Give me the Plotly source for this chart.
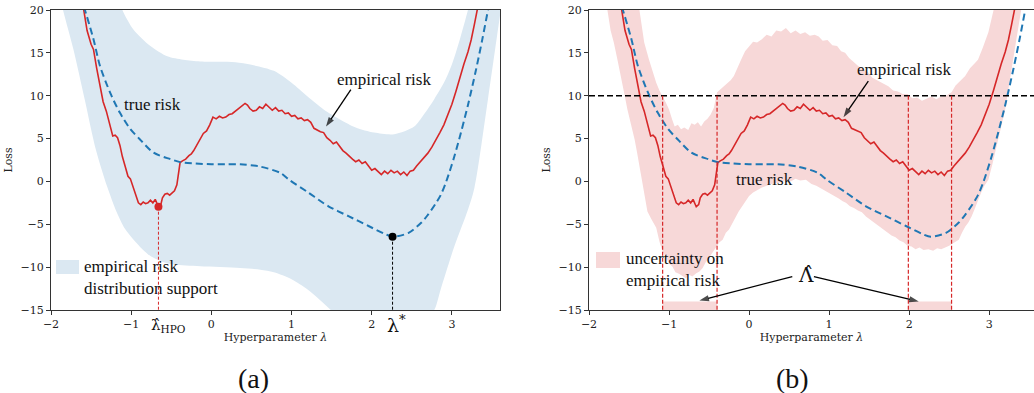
import plotly.graph_objects as go

# ---------------- data ----------------
lam_emp = [-1.60, -1.55, -1.50, -1.47, -1.43, -1.39, -1.35, -1.31, -1.28, -1.25, -1.23, -1.20, -1.17, -1.14,
           -1.11, -1.07, -1.04, -1.01, -0.97, -0.94, -0.91, -0.88, -0.85, -0.82, -0.79, -0.76, -0.73, -0.70,
           -0.68, -0.66, -0.63, -0.61, -0.58, -0.55, -0.52, -0.49, -0.46, -0.43, -0.41, -0.39, -0.36, -0.32,
           -0.28, -0.25, -0.22, -0.18, -0.14, -0.10, -0.06, -0.02, 0.02, 0.06, 0.10, 0.14, 0.18, 0.22, 0.26,
           0.30, 0.34, 0.38, 0.42, 0.45, 0.48, 0.52, 0.56, 0.60, 0.64, 0.68, 0.72, 0.76, 0.80, 0.84, 0.88,
           0.92, 0.96, 1.00, 1.04, 1.08, 1.12, 1.16, 1.20, 1.24, 1.28, 1.32, 1.36, 1.40, 1.44, 1.48, 1.52,
           1.56, 1.60, 1.64, 1.68, 1.72, 1.76, 1.80, 1.84, 1.88, 1.92, 1.96, 2.00, 2.04, 2.08, 2.12, 2.16,
           2.20, 2.24, 2.28, 2.32, 2.36, 2.40, 2.44, 2.48, 2.52, 2.56, 2.60, 2.65, 2.70, 2.75, 2.80, 2.85,
           2.90, 2.95, 3.00, 3.05, 3.10, 3.15, 3.20, 3.24, 3.28, 3.32]
emp_risk = [20.5, 17.6, 16.0, 15.4, 13.2, 11.0, 9.3, 8.2, 7.2, 6.0, 5.3, 5.4, 5.1, 4.2,
            2.9, 1.6, 0.6, 0.3, -0.9, -1.8, -2.5, -2.7, -2.4, -2.6, -2.5, -2.2, -2.5, -2.1,
            -2.6, -2.95, -2.7, -1.9, -1.5, -1.4, -1.6, -1.3, -1.1, -0.4, 0.9, 2.2, 2.4, 2.6,
            3.0, 3.2, 3.6, 4.3, 4.9, 5.6, 5.9, 6.6, 7.5, 7.3, 7.6, 7.4, 7.5, 7.8, 7.9,
            8.2, 8.4, 8.7, 9.1, 8.9, 8.5, 8.2, 8.3, 8.7, 8.5, 9.0, 8.6, 8.3, 8.6, 8.2, 8.3,
            7.9, 8.0, 7.6, 7.7, 7.3, 7.4, 7.1, 7.2, 6.9, 6.2, 6.0, 5.8, 5.7, 5.1, 4.8, 4.4,
            4.6, 4.1, 3.6, 3.3, 2.9, 2.6, 2.3, 2.5, 2.1, 2.3, 1.8, 1.3, 1.5, 1.1, 0.8, 1.2,
            0.9, 1.3, 1.0, 1.2, 0.8, 1.1, 0.7, 1.2, 1.3, 1.8, 2.2, 2.7, 3.3, 4.0, 4.8, 5.7,
            6.6, 7.8, 9.0, 10.5, 12.2, 13.7, 15.1, 16.5, 18.3, 20.2]

lam_true = [-1.59, -1.47, -1.39, -1.26, -1.14, -1.01, -0.89, -0.72, -0.51, -0.39, -0.20, 0.00, 0.20, 0.36,
            0.60, 0.86, 0.97, 1.21, 1.46, 1.71, 1.96, 2.17, 2.27, 2.46, 2.62, 2.70, 2.79, 2.86, 2.93,
            3.03, 3.11, 3.20, 3.30, 3.38, 3.46, 3.50]
true_risk = [20.4, 16.6, 13.5, 10.3, 8.0, 6.1, 4.9, 3.35, 2.6, 2.25, 2.1, 2.0, 2.0, 2.0,
             1.75, 1.0, 0.2, -1.3, -2.9, -4.05, -5.2, -6.15, -6.45, -6.0, -4.8, -3.9, -2.7, -1.6, 0.0,
             2.9, 5.6, 8.9, 13.0, 16.6, 20.5, 22.5]

# (a) support of the empirical-risk distribution
support_upper_lam = [-1.20, -1.11, -0.97, -0.76, -0.55, -0.35, -0.14, 0.10, 0.30, 0.50, 0.78, 1.00, 1.20,
                     1.40, 1.61, 1.80, 2.03, 2.28, 2.53, 2.65, 2.78, 2.90, 2.99, 3.10, 3.20, 3.25]
support_upper = [22.5, 20.0, 17.7, 15.8, 14.6, 14.2, 14.0, 13.95, 13.9, 13.6, 12.9, 11.5, 9.9,
                 8.4, 7.2, 6.3, 5.7, 5.5, 6.4, 7.8, 9.6, 11.5, 13.4, 16.6, 20.0, 22.0]
support_lower_lam = [-1.92, -1.85, -1.72, -1.58, -1.44, -1.30, -1.18, -1.08, -0.97, -0.86, -0.76, -0.60,
                     -0.47, -0.14, 0.36, 0.61, 0.78, 1.00, 1.20, 1.35, 1.49, 1.70, 2.00, 2.30, 2.60,
                     2.78, 2.86, 3.03, 3.20, 3.28, 3.45, 3.61, 3.66]
support_lower = [23.0, 20.0, 15.4, 9.6, 3.7, -0.6, -3.6, -5.5, -6.8, -7.9, -8.7, -9.4,
                 -9.7, -9.9, -10.1, -10.3, -10.6, -11.4, -12.6, -13.8, -15.0, -17.0, -18.5, -18.5, -17.0,
                 -15.0, -12.6, -7.6, -3.3, -0.8, 9.6, 20.0, 23.0]

# (b) uncertainty on the empirical risk
unc_upper_lam = [-1.40, -1.37, -1.31, -1.25, -1.20, -1.16, -1.12, -1.08, -1.04, -1.00, -0.96, -0.93, -0.89,
                 -0.85, -0.81, -0.76, -0.72, -0.68, -0.64, -0.60, -0.56, -0.52, -0.48, -0.44, -0.40, -0.35,
                 -0.31, -0.27, -0.23, -0.19, -0.14, -0.10, -0.05, 0.00, 0.05, 0.10, 0.16, 0.22, 0.28, 0.34,
                 0.40, 0.46, 0.52, 0.58, 0.64, 0.70, 0.76, 0.82, 0.87, 0.92, 0.98, 1.04, 1.10, 1.15, 1.20,
                 1.25, 1.30, 1.36, 1.42, 1.48, 1.54, 1.60, 1.66, 1.74, 1.80, 1.86, 1.92, 1.98, 2.04, 2.10,
                 2.16, 2.22, 2.28, 2.34, 2.40, 2.46, 2.53, 2.58, 2.64, 2.70, 2.76, 2.82, 2.86, 2.92, 2.99,
                 3.05, 3.08]
unc_upper = [21.0, 20.0, 16.2, 14.2, 12.6, 11.5, 10.6, 9.9, 9.2, 8.4, 7.2, 6.4, 6.6,
             6.1, 6.3, 6.0, 6.8, 6.6, 6.9, 6.4, 7.0, 7.3, 7.8, 8.6, 10.4, 10.8,
             11.1, 11.5, 11.8, 12.3, 13.4, 14.2, 15.2, 15.8, 16.3, 16.2, 16.6, 17.1, 16.9, 17.6,
             17.5, 17.9, 17.3, 17.6, 17.2, 17.4, 17.0, 17.1, 16.9, 16.4, 16.5, 15.9, 15.8, 15.2, 15.0,
             14.4, 14.0, 13.5, 13.1, 12.8, 12.1, 11.8, 11.5, 11.1, 10.6, 10.5, 10.2, 10.2, 9.7, 9.8,
             9.4, 9.6, 9.9, 9.6, 9.9, 10.0, 10.4, 11.2, 11.8, 12.3, 13.2, 13.8, 14.2, 15.6, 17.4,
             19.8, 21.0]
unc_lower_lam = [-1.80, -1.77, -1.73, -1.69, -1.64, -1.60, -1.56, -1.52, -1.47, -1.43, -1.40, -1.37, -1.33,
                 -1.30, -1.27, -1.22, -1.16, -1.12, -1.08, -1.04, -1.00, -0.96, -0.92, -0.87, -0.83, -0.79,
                 -0.75, -0.71, -0.66, -0.62, -0.58, -0.54, -0.50, -0.46, -0.42, -0.37, -0.33, -0.29, -0.25,
                 -0.21, -0.17, -0.13, -0.09, -0.05, 0.00, 0.05, 0.10, 0.16, 0.22, 0.28, 0.34, 0.40, 0.46,
                 0.52, 0.58, 0.64, 0.71, 0.78, 0.84, 0.90, 0.95, 1.00, 1.06, 1.12, 1.17, 1.21, 1.26, 1.31,
                 1.36, 1.41, 1.46, 1.52, 1.57, 1.62, 1.68, 1.73, 1.78, 1.83, 1.88, 1.93, 1.98, 2.03, 2.08,
                 2.13, 2.18, 2.24, 2.30, 2.35, 2.40, 2.45, 2.50, 2.55, 2.62, 2.66, 2.70, 2.74, 2.78, 2.82,
                 2.86, 2.90, 2.94, 2.99, 3.04, 3.08, 3.14, 3.20, 3.24, 3.28, 3.34, 3.40, 3.43]
unc_lower = [21.0, 20.0, 17.6, 16.2, 14.0, 12.3, 10.3, 8.4, 6.5, 4.9, 3.4, 1.8, -0.6,
             -1.9, -3.5, -4.4, -5.4, -7.0, -8.2, -8.8, -9.6, -9.9, -10.6, -10.8, -11.1, -11.3,
             -10.9, -11.1, -10.7, -10.5, -10.1, -9.4, -8.9, -8.3, -7.7, -7.1, -6.8, -6.0, -5.6,
             -4.8, -4.2, -3.5, -2.9, -2.4, -1.7, -1.3, -1.0, -0.7, -0.5, -0.3, -0.2, -0.1, 0.2,
             0.0, 0.3, 0.1, 0.2, -0.3, -0.5, -0.8, -1.1, -1.3, -1.7, -2.0, -2.3, -2.5, -2.9, -3.1,
             -3.4, -3.6, -4.1, -4.5, -4.8, -5.2, -5.6, -5.9, -6.3, -6.5, -6.9, -7.1, -7.5, -7.6, -7.9,
             -7.7, -8.0, -7.9, -8.1, -7.8, -7.9, -7.7, -7.5, -7.2, -6.8, -6.0, -5.3, -4.8, -4.1, -3.2,
             -2.2, -1.3, -0.5, 0.2, 2.0, 3.7, 6.0, 8.4, 10.9, 13.4, 16.6, 20.0, 21.5]

lam_hpo, risk_hpo = -0.66, -2.95
lam_star, risk_star = 2.26, -6.45
threshold = 10.0
lambda_hat_lo = [-1.08, 1.99]
lambda_hat_hi = [-0.40, 2.53]
y_floor = -15.0
bar_top = -14.0

# arrows: (tail_x, tail_y, head_x, head_y)
arrow_a = [(1.74, 10.7, 1.43, 6.4)]
arrow_b = [(1.49, 11.7, 1.18, 7.5), (0.54, -11.1, -0.62, -13.9), (0.81, -11.1, 2.12, -14.0)]

x_ticks = [-2, -1, 0, 1, 2, 3]
y_ticks = [-15, -10, -5, 0, 5, 10, 15, 20]

# ---------------- style ----------------
BLUE = "#1f77b4"
RED = "#d62728"
BLUE_FILL = "#dbe8f2"
PINK_FILL = "#f7d8d8"
SERIF = "Liberation Serif"
TICKF = "DejaVu Serif"
W, H = 1034, 393


def px_x(p):
    return p / W


def px_y(p):
    return 1 - p / H


fig = go.Figure()

# ---- panel (a) ----
band_x = support_lower_lam + support_upper_lam[::-1]
band_y = support_lower + support_upper[::-1]
fig.add_trace(go.Scatter(x=band_x, y=band_y, fill="toself", fillcolor=BLUE_FILL,
                         line=dict(width=0, shape="spline", smoothing=0.8), mode="lines",
                         hoverinfo="skip", showlegend=False, xaxis="x", yaxis="y"))
fig.add_trace(go.Scatter(x=lam_emp, y=emp_risk, mode="lines", line=dict(color=RED, width=1.6),
                         showlegend=False, xaxis="x", yaxis="y"))
fig.add_trace(go.Scatter(x=lam_true, y=true_risk, mode="lines",
                         line=dict(color=BLUE, width=2, dash="7px,4px", shape="spline", smoothing=0.8),
                         showlegend=False, xaxis="x", yaxis="y"))
fig.add_trace(go.Scatter(x=[lam_hpo, lam_hpo], y=[risk_hpo, y_floor], mode="lines",
                         line=dict(color=RED, width=1, dash="3px,2px"), showlegend=False,
                         xaxis="x", yaxis="y"))
fig.add_trace(go.Scatter(x=[lam_star, lam_star], y=[risk_star, y_floor], mode="lines",
                         line=dict(color="black", width=1, dash="3px,2px"), showlegend=False,
                         xaxis="x", yaxis="y"))
fig.add_trace(go.Scatter(x=[lam_hpo], y=[risk_hpo], mode="markers",
                         marker=dict(color=RED, size=8), showlegend=False, xaxis="x", yaxis="y"))
fig.add_trace(go.Scatter(x=[lam_star], y=[risk_star], mode="markers",
                         marker=dict(color="black", size=8), showlegend=False, xaxis="x", yaxis="y"))

# ---- panel (b) ----
ub_x = unc_lower_lam + unc_upper_lam[::-1]
ub_y = unc_lower + unc_upper[::-1]
fig.add_trace(go.Scatter(x=ub_x, y=ub_y, fill="toself", fillcolor=PINK_FILL,
                         line=dict(width=0), mode="lines", hoverinfo="skip", showlegend=False,
                         xaxis="x2", yaxis="y2"))
for lo, hi in zip(lambda_hat_lo, lambda_hat_hi):
    fig.add_trace(go.Scatter(x=[lo, hi, hi, lo, lo], y=[y_floor, y_floor, bar_top, bar_top, y_floor],
                             fill="toself", fillcolor=PINK_FILL, line=dict(width=0), mode="lines",
                             hoverinfo="skip", showlegend=False, xaxis="x2", yaxis="y2"))
fig.add_trace(go.Scatter(x=lam_emp, y=emp_risk, mode="lines", line=dict(color=RED, width=1.6),
                         showlegend=False, xaxis="x2", yaxis="y2"))
fig.add_trace(go.Scatter(x=lam_true, y=true_risk, mode="lines",
                         line=dict(color=BLUE, width=2, dash="7px,4px", shape="spline", smoothing=0.8),
                         showlegend=False, xaxis="x2", yaxis="y2"))
fig.add_trace(go.Scatter(x=[-2, 3.6], y=[threshold, threshold], mode="lines",
                         line=dict(color="black", width=1.4, dash="6px,3px"), showlegend=False,
                         xaxis="x2", yaxis="y2"))
for xv in lambda_hat_lo + lambda_hat_hi:
    fig.add_trace(go.Scatter(x=[xv, xv], y=[threshold, y_floor], mode="lines",
                             line=dict(color=RED, width=1.2, dash="4px,2px"), showlegend=False,
                             xaxis="x2", yaxis="y2"))

# ---- arrows (line + arrow-head marker) ----
for arrows, xa, ya in ((arrow_a, "x", "y"), (arrow_b, "x2", "y2")):
    for tx, ty, hx, hy in arrows:
        fig.add_trace(go.Scatter(x=[tx, hx], y=[ty, hy], mode="lines+markers",
                                 line=dict(color="black", width=1.3),
                                 marker=dict(symbol="arrow", size=[0, 10], color="black",
                                             angleref="previous", line=dict(width=0)),
                                 hoverinfo="skip", showlegend=False, xaxis=xa, yaxis=ya))

# ---------------- axes ----------------
axis_common = dict(showgrid=False, zeroline=False, showline=True, linecolor="#333", linewidth=1,
                   mirror=True, ticks="outside", ticklen=4, tickwidth=1, tickcolor="#333",
                   tickfont=dict(family=TICKF, size=11, color="#222"), automargin=False)
yd = [px_y(310), px_y(10)]
fig.update_layout(
    width=W, height=H, margin=dict(l=0, r=0, t=0, b=0),
    paper_bgcolor="white", plot_bgcolor="white",
    xaxis=dict(domain=[px_x(51), px_x(500)], range=[-2, 3.6], tickvals=x_ticks, anchor="y",
               title=dict(text="Hyperparameter <i>λ</i>", font=dict(family=TICKF, size=11, color="#222"),
                          standoff=3), **axis_common),
    yaxis=dict(domain=yd, range=[-15, 20], tickvals=y_ticks, anchor="x",
               title=dict(text="Loss", font=dict(family=TICKF, size=11, color="#222"), standoff=5),
               **axis_common),
    xaxis2=dict(domain=[px_x(589), 1.0], range=[-2, 3.56], tickvals=x_ticks, anchor="y2",
                title=dict(text="Hyperparameter <i>λ</i>", font=dict(family=TICKF, size=11, color="#222"),
                           standoff=3), **axis_common),
    yaxis2=dict(domain=yd, range=[-15, 20], tickvals=y_ticks, anchor="x2",
                title=dict(text="Loss", font=dict(family=TICKF, size=11, color="#222"), standoff=5),
                **axis_common),
)

# ---------------- legends (patch + text) ----------------
fig.add_shape(type="rect", xref="paper", yref="paper", x0=px_x(56), x1=px_x(79), y0=px_y(274), y1=px_y(260),
              fillcolor=BLUE_FILL, line=dict(width=0), layer="above")
fig.add_shape(type="rect", xref="paper", yref="paper", x0=px_x(596), x1=px_x(620), y0=px_y(268), y1=px_y(252),
              fillcolor=PINK_FILL, line=dict(width=0), layer="above")

ann = []
txt = dict(family=SERIF, size=17, color="#111")
ann.append(dict(xref="paper", yref="paper", x=px_x(82), y=px_y(277), xanchor="left", yanchor="middle",
                text="empirical risk<br>distribution support", align="left", showarrow=False, font=txt))
ann.append(dict(xref="paper", yref="paper", x=px_x(624), y=px_y(269), xanchor="left", yanchor="middle",
                text="uncertainty on<br>empirical risk", align="left", showarrow=False, font=txt))

# panel (a) labels
ann.append(dict(xref="x", yref="y", x=-0.74, y=9.0, text="true risk", showarrow=False, font=txt))
ann.append(dict(xref="x", yref="y", x=2.15, y=11.9, text="empirical risk", showarrow=False, font=txt))
ann.append(dict(xref="x", yref="paper", x=lam_hpo + 0.12, y=px_y(325), xanchor="center", yanchor="middle",
                text="λ\u0302<sub>HPO</sub>", showarrow=False,
                font=dict(family="DejaVu Serif", size=15, color="#111")))
ann.append(dict(xref="x", yref="paper", x=lam_star + 0.05, y=px_y(324), xanchor="center", yanchor="middle",
                text="λ<sup>*</sup>", showarrow=False, font=dict(family="DejaVu Serif", size=19, color="#111")))

# panel (b) labels
ann.append(dict(xref="x2", yref="y2", x=0.19, y=0.2, text="true risk", showarrow=False, font=txt))
ann.append(dict(xref="x2", yref="y2", x=1.94, y=13.1, text="empirical risk", showarrow=False, font=txt))
ann.append(dict(xref="x2", yref="y2", x=0.71, y=-10.9, text="Λ\u0302", showarrow=False,
                font=dict(family="DejaVu Serif", size=20, color="#111")))

# captions
ann.append(dict(xref="paper", yref="paper", x=px_x(253), y=px_y(378), xanchor="center", yanchor="middle",
                text="(a)", showarrow=False, font=dict(family=SERIF, size=28, color="#111")))
ann.append(dict(xref="paper", yref="paper", x=px_x(792), y=px_y(378), xanchor="center", yanchor="middle",
                text="(b)", showarrow=False, font=dict(family=SERIF, size=28, color="#111")))

fig.update_layout(annotations=ann)
fig.write_html("out.html")
